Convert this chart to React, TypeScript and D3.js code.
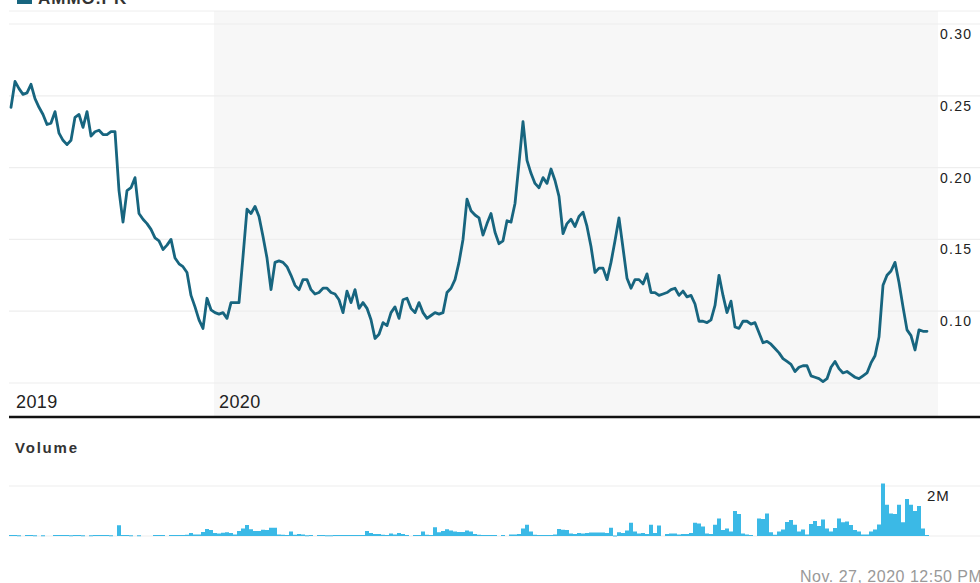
import * as d3 from 'd3'

// closing prices, one value per trading session (oldest first)
const prices = [
  0.242, 0.260, 0.255, 0.251, 0.252, 0.258, 0.248, 0.242, 0.237, 0.230,
  0.231, 0.239, 0.224, 0.219, 0.216, 0.219, 0.235, 0.237, 0.228, 0.239,
  0.222, 0.225, 0.226, 0.223, 0.223, 0.225, 0.225, 0.184, 0.162, 0.184,
  0.186, 0.193, 0.168, 0.164, 0.161, 0.157, 0.151, 0.149, 0.143, 0.146,
  0.150, 0.137, 0.133, 0.131, 0.127, 0.111, 0.103, 0.094, 0.088, 0.109,
  0.101, 0.099, 0.098, 0.099, 0.095, 0.106, 0.106, 0.106, 0.138, 0.171,
  0.168, 0.173, 0.166, 0.152, 0.137, 0.115, 0.134, 0.135, 0.134, 0.131,
  0.125, 0.118, 0.115, 0.122, 0.122, 0.115, 0.112, 0.113, 0.116, 0.116,
  0.113, 0.112, 0.108, 0.099, 0.114, 0.106, 0.115, 0.102, 0.106, 0.102,
  0.094, 0.081, 0.084, 0.092, 0.090, 0.099, 0.103, 0.095, 0.108, 0.109,
  0.102, 0.099, 0.106, 0.099, 0.095, 0.097, 0.099, 0.098, 0.099, 0.113,
  0.116, 0.122, 0.134, 0.150, 0.178, 0.170, 0.167, 0.165, 0.153, 0.161,
  0.168, 0.155, 0.147, 0.149, 0.163, 0.162, 0.175, 0.203, 0.232, 0.205,
  0.196, 0.189, 0.186, 0.193, 0.189, 0.199, 0.191, 0.180, 0.154, 0.161,
  0.164, 0.159, 0.166, 0.169, 0.159, 0.145, 0.127, 0.130, 0.130, 0.122,
  0.134, 0.149, 0.165, 0.144, 0.123, 0.116, 0.122, 0.122, 0.119, 0.126,
  0.113, 0.113, 0.111, 0.112, 0.113, 0.115, 0.116, 0.111, 0.114, 0.110,
  0.111, 0.105, 0.093, 0.093, 0.092, 0.094, 0.104, 0.125, 0.111, 0.099,
  0.107, 0.089, 0.088, 0.093, 0.093, 0.091, 0.092, 0.085, 0.078, 0.079,
  0.077, 0.074, 0.071, 0.067, 0.065, 0.063, 0.058, 0.061, 0.062, 0.062,
  0.055, 0.054, 0.053, 0.051, 0.053, 0.061, 0.065, 0.060, 0.057, 0.058,
  0.056, 0.054, 0.053, 0.055, 0.057, 0.064, 0.069, 0.082, 0.118, 0.125,
  0.128, 0.134, 0.120, 0.103, 0.087, 0.083, 0.073, 0.087, 0.086, 0.086,
]

// volume per session, in millions of shares
const volumes = [
  0.04, 0.04, 0.03, 0, 0.04, 0.04, 0.03, 0, 0.03, 0,
  0, 0.04, 0.04, 0.04, 0.04, 0.03, 0.04, 0.04, 0.03, 0,
  0.03, 0.04, 0.04, 0.04, 0.04, 0.03, 0, 0.43, 0.04, 0.04,
  0.03, 0, 0.03, 0, 0, 0, 0.04, 0.04, 0.04, 0,
  0.04, 0.04, 0.04, 0.04, 0.05, 0.12, 0.06, 0.06, 0.16, 0.28,
  0.24, 0.12, 0.10, 0.13, 0.15, 0.12, 0.06, 0.20, 0.30, 0.44,
  0.27, 0.20, 0.20, 0.25, 0.24, 0.33, 0.33, 0.06, 0.05, 0.04,
  0.18, 0.05, 0.08, 0.06, 0.03, 0.04, 0, 0.04, 0.04, 0.03,
  0.03, 0.04, 0.04, 0.04, 0.04, 0.04, 0.04, 0.04, 0.04, 0.20,
  0.12, 0.08, 0.08, 0.05, 0.04, 0.10, 0.06, 0.12, 0.08, 0.04,
  0, 0.04, 0.04, 0.18, 0.05, 0.04, 0.35, 0.15, 0.20, 0.27,
  0.22, 0.18, 0.16, 0.16, 0.22, 0.18, 0.08, 0.05, 0.04, 0.04,
  0.04, 0.04, 0, 0.04, 0, 0.06, 0.06, 0.08, 0.30, 0.45,
  0.18, 0.05, 0.04, 0.04, 0.04, 0.04, 0.06, 0.28, 0.25, 0.24,
  0.10, 0.08, 0.12, 0.10, 0.12, 0.14, 0.14, 0.14, 0.14, 0.12,
  0.33, 0.02, 0.15, 0.12, 0.22, 0.53, 0.18, 0.10, 0.12, 0.08,
  0.45, 0.12, 0.42, 0, 0.08, 0.10, 0.10, 0.06, 0.08, 0.08,
  0.12, 0.53, 0.50, 0.38, 0.10, 0.08, 0.45, 0.70, 0.24, 0.30,
  0.18, 1.00, 0.88, 0.10, 0.06, 0.04, 0, 0.70, 0.68, 0.90,
  0.15, 0.05, 0.18, 0.26, 0.56, 0.64, 0.45, 0.18, 0.26, 0.06,
  0.48, 0.60, 0.40, 0.66, 0.30, 0.18, 0.32, 0.70, 0.55, 0.58,
  0.44, 0.24, 0.18, 0.06, 0.06, 0.18, 0.26, 0.46, 2.10, 1.25,
  0.90, 0.88, 1.25, 0.55, 1.48, 1.25, 1.00, 1.20, 0.30, 0.04,
]

const priceTicks = [0.05, 0.1, 0.15, 0.2, 0.25, 0.3]
const yearLabels = [
  { label: '2019', index: 0 },
  { label: '2020', index: 50.75 },
]
const symbol = 'AMMO.PK'
const stamp = 'Nov. 27, 2020 12:50 PM'

const W = 980
const H = 583
const LINE = '#17657f'
const BAR = '#3bb9e6'
const GRID = '#eeeeee'
const FONT = '"Liberation Sans", Arial, sans-serif'

export default function App() {
  const x = d3.scaleLinear().domain([0, prices.length - 1]).range([11, 927])
  const y = d3.scaleLinear().domain([0.05, 0.3]).range([383, 24])
  const vy = d3.scaleLinear().domain([0, 2]).range([536, 486])
  const step = x(1) - x(0)

  const line = d3
    .line<number>()
    .x((_, i) => x(i))
    .y(d => y(d))

  const shadeLeft = x(yearLabels[1].index)

  return (
    <div style={{ position: 'absolute', left: 0, top: 0 }}>
      <svg width={W} height={H} style={{ display: 'block', fontFamily: FONT }}>
        <rect x={0} y={0} width={W} height={H} fill="#fff" />

        {/* 2020 shading */}
        <rect x={shadeLeft} y={11} width={938 - shadeLeft} height={405} fill="#f7f7f7" />

        {/* legend, cut off at the top like the source */}
        <rect x={17} y={-10} width={15} height={14} fill={LINE} />
        <text x={38} y={4} fontSize={17} fontWeight="bold" fill="#333" letterSpacing={1}>
          {symbol}
        </text>

        {/* price grid */}
        <line x1={9} x2={W} y1={11} y2={11} stroke={GRID} strokeWidth={1} />
        {priceTicks.map(t => (
          <g key={t}>
            <line x1={9} x2={W} y1={y(t)} y2={y(t)} stroke={GRID} strokeWidth={1.2} />
            {t >= 0.1 && (
              <text x={940} y={y(t) + 15} fontSize={14} fill="#222" letterSpacing={1.3}>
                {t.toFixed(2)}
              </text>
            )}
          </g>
        ))}

        {/* price line */}
        <path
          d={line(prices) ?? ''}
          fill="none"
          stroke={LINE}
          strokeWidth={2.8}
          strokeLinejoin="round"
          strokeLinecap="round"
        />

        {/* year labels */}
        {yearLabels.map(l => (
          <text key={l.label} x={x(l.index) + 5} y={408} fontSize={18} fill="#222" letterSpacing={0.4}>
            {l.label}
          </text>
        ))}

        {/* separator */}
        <line x1={9} x2={W} y1={417} y2={417} stroke="#111" strokeWidth={2.5} />

        {/* volume panel */}
        <text x={15} y={453} fontSize={15} fontWeight="bold" fill="#333" letterSpacing={1.8}>
          Volume
        </text>
        <line x1={9} x2={W} y1={vy(2)} y2={vy(2)} stroke={GRID} strokeWidth={1.2} />
        <line x1={9} x2={W} y1={vy(0)} y2={vy(0)} stroke={GRID} strokeWidth={1.2} />
        {volumes.map((v, i) =>
          v > 0 ? (
            <rect
              key={i}
              x={x(i) - step / 2}
              y={vy(v)}
              width={step}
              height={Math.max(1, vy(0) - vy(v))}
              fill={BAR}
            />
          ) : null
        )}
        <text x={927} y={501} fontSize={15} fill="#222" letterSpacing={0.8}>
          2M
        </text>

        <text x={800} y={582} fontSize={16} fill="#999" letterSpacing={0.5}>
          {stamp}
        </text>
      </svg>
    </div>
  )
}
